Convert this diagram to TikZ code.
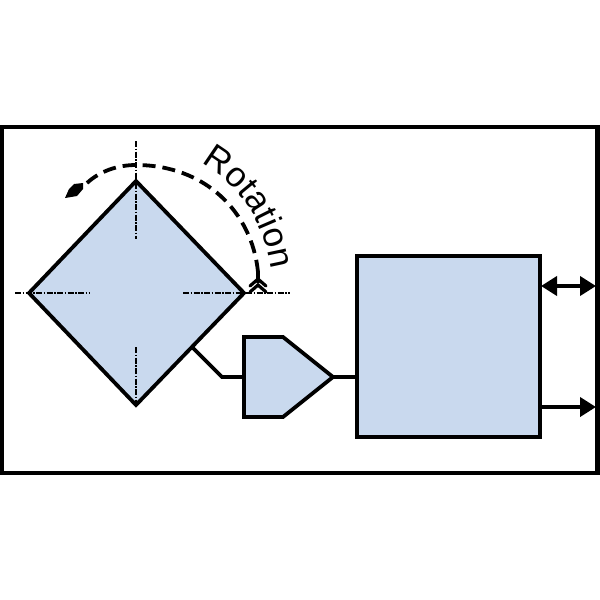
\documentclass[tikz,border=0pt]{standalone}
\usepackage{fontspec}
\setmainfont{Liberation Sans}
\usetikzlibrary{arrows.meta,decorations.text}
\definecolor{fillblue}{RGB}{201,217,238}
\tikzset{
  frame/.style={draw=black,line width=4.2pt},
  part/.style={draw=black,fill=fillblue,line width=3.8pt,line join=miter},
  wire/.style={draw=black,line width=3.8pt},
  axis/.style={draw=black,line width=2pt,dash pattern=on 6pt off 1.5pt on 1.5pt off 1.5pt},
  sig/.style={draw=black,line width=3.8pt,-{Triangle[length=16pt,width=19pt]}},
  bisig/.style={draw=black,line width=3.8pt,{Triangle[length=16pt,width=19pt]}-{Triangle[length=16pt,width=19pt]}},
  swing/.style={draw=black,line width=3.8pt,dash pattern=on 13pt off 7pt},
  chev/.style={draw=black,line width=3.2pt,line cap=round}
}
\begin{document}
\begin{tikzpicture}[x=1pt,y=-1pt]
\useasboundingbox (0,0) rectangle (600,600);
\fill[white] (0,0) rectangle (600,600);
\draw[frame] (2,127) rectangle (597.5,473);
% named points
\coordinate (dT) at (136,181);
\coordinate (dL) at (29,293);
\coordinate (dR) at (244,293);
\coordinate (dB) at (136,405);
\coordinate (dTap) at (193,348);
\coordinate (bend) at (222,377);
\coordinate (aTL) at (244,337);
\coordinate (aTR) at (283,337);
\coordinate (aTip) at (333,377);
\coordinate (aBR) at (283,417);
\coordinate (aBL) at (244,417);
\coordinate (aIn) at (244,377);
\coordinate (bTL) at (357,256);
\coordinate (bBR) at (540,437);
\coordinate (bOut1) at (541,286);
\coordinate (bOut2) at (540,407);
\coordinate (bIn) at (357,377);
\coordinate (p1) at (596,286);
\coordinate (p2) at (596,407);
% wires below shapes
\draw[wire] (dTap) -- (bend) -- (aIn);
\draw[wire] (aTip) -- (bIn);
% shapes
\path[part] (dT) -- (dR) -- (dB) -- (dL) -- cycle;
\path[part] (aTL) -- (aTR) -- (aTip) -- (aBR) -- (aBL) -- cycle;
\path[part] (bTL) rectangle (bBR);
% signals
\draw[bisig] (bOut1) -- (p1);
\draw[sig] (bOut2) -- (p2);
% axes
\draw[axis] (136,141) -- (136,239);
\draw[axis] (136,347) -- (136,405);
\draw[axis] (15,293) -- (90,293);
\draw[axis] (183,293) -- (290,293);
% rotation arc
\draw[swing] (87,183) .. controls (100,171) and (118,165) .. (136,165) .. controls (205,165) and (252,212) .. (258,272);
\fill[black] (65,198) -- (69,189) -- (74,184) -- (83,183) -- (83,189) -- (77,196) -- cycle;
\draw[chev] (258,272) -- (258,282);
\draw[chev] (250,286) -- (258,279) -- (266,286);
\draw[chev] (250,292) -- (258,285) -- (266,292);
% label
\path[decorate,decoration={text along path,text align=left,raise=2pt,
  text={|\fontsize{35pt}{35pt}\selectfont|Rotation}}]
  (200,165) .. controls (245,190) and (270,235) .. (272,300);
\end{tikzpicture}
\end{document}
